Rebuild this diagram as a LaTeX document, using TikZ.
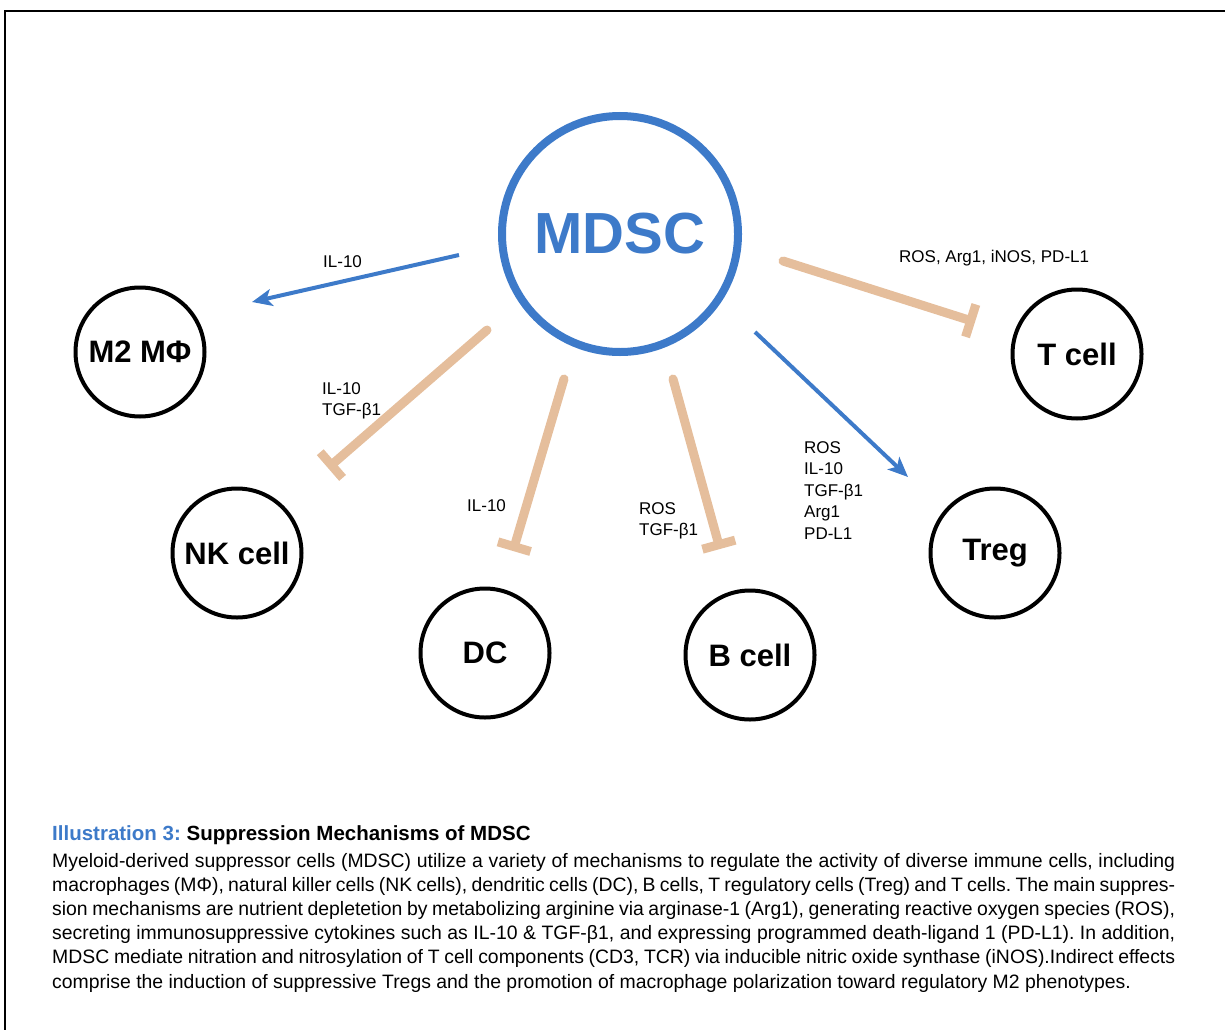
\documentclass[tikz,border=0pt]{standalone}
\usepackage{fontspec}
\setmainfont{Liberation Sans}
\newfontfamily\capfont{Liberation Sans}
\usetikzlibrary{arrows.meta}
\definecolor{mblue}{RGB}{61,122,201}
\definecolor{mtan}{RGB}{229,190,156}
\frenchspacing
\begin{document}
\begin{tikzpicture}[x=1pt,y=-1pt,
  cell/.style={circle,draw=black,line width=4pt,minimum size=129pt,inner sep=0pt,
    font=\fontsize{31}{31}\selectfont\bfseries},
  act/.style={draw=mblue,line width=4pt,-{Stealth[length=20pt,width=17pt,inset=5pt]}},
  inh/.style={draw=mtan,line width=9pt,line cap=round,-{Bar[width=34pt]}},
  lab/.style={font=\fontsize{17}{21.5}\selectfont,align=left,inner sep=0pt},
  capline/.style={anchor=base west,inner sep=0pt,font=\capfont\fontsize{19.4}{24}\selectfont},
  frame/.style={draw=black,line width=2.5pt}]
\useasboundingbox (0,0) rectangle (1225,1030);
% frame
\coordinate (ftl) at (5,11);
\coordinate (ftr) at (1225,11);
\coordinate (fbl) at (5,1030);
\draw[frame] (ftr) -- (ftl) -- (fbl);
% nodes
\node[circle,draw=mblue,line width=8pt,minimum size=236pt,inner sep=0pt,text=mblue,
  font=\fontsize{58}{58}\selectfont\bfseries] (mdsc) at (620,234) {MDSC};
\node[cell] (m2) at (140,352) {M2 MΦ};
\node[cell] (nk) at (237,553) {NK cell};
\node[cell] (dc) at (485,653) {DC};
\node[cell] (bc) at (750,655) {B cell};
\node[cell] (tc) at (1077,354) {T cell};
\node[cell] (tr) at (995,553) {Treg};
% connector ends
\coordinate (m2s) at (459,255); \coordinate (m2e) at (252,302);
\coordinate (nks) at (487,330); \coordinate (nke) at (328,468);
\coordinate (dcs) at (564,379); \coordinate (dce) at (513,551);
\coordinate (bcs) at (673,379); \coordinate (bce) at (720,549);
\coordinate (tcs) at (783,261); \coordinate (tce) at (975,322);
\coordinate (trs) at (755,332); \coordinate (tre) at (908,477);
\draw[act] (m2s) -- (m2e);
\draw[inh] (nks) -- (nke);
\draw[inh] (dcs) -- (dce);
\draw[inh] (bcs) -- (bce);
\draw[inh] (tcs) -- (tce);
\draw[act] (trs) -- (tre);
% labels
\node[lab,anchor=west] (l1) at (323,262) {IL-10};
\node[lab,anchor=north west] (l2) at (322,382) {IL-10\\TGF-β1};
\node[lab,anchor=west] (l3) at (467,506) {IL-10};
\node[lab,anchor=north west] (l4) at (639,502) {ROS\\TGF-β1};
\node[lab,anchor=west] (l5) at (899,258) {ROS, Arg1, iNOS, PD-L1};
\node[lab,anchor=north west] (l6) at (804,441) {ROS\\IL-10\\TGF-β1\\Arg1\\PD-L1};
% caption
\node[capline,font=\capfont\fontsize{20.5}{24}\selectfont\bfseries] (title) at (52,840)
  {\textcolor{mblue}{Illustration 3:} Suppression Mechanisms of MDSC};
\node[capline] (c1) at (52,867) {\makebox[1123pt][s]{Myeloid-derived suppressor cells (MDSC) utilize a variety of mechanisms to regulate the activity of diverse immune cells, including}};
\node[capline] (c2) at (52,891.2) {\makebox[1123pt][s]{macrophages (MΦ), natural killer cells (NK cells), dendritic cells (DC), B cells, T regulatory cells (Treg) and T cells. The main suppres-}};
\node[capline] (c3) at (52,915.4) {\makebox[1123pt][s]{sion mechanisms are nutrient depletetion by metabolizing arginine via arginase-1 (Arg1), generating reactive oxygen species (ROS),}};
\node[capline] (c4) at (52,939.6) {\makebox[1123pt][s]{secreting immunosuppressive cytokines such as IL-10 \& TGF-β1, and expressing programmed death-ligand 1 (PD-L1). In addition,}};
\node[capline] (c5) at (52,963.8) {\makebox[1123pt][s]{MDSC mediate nitration and nitrosylation of T cell components (CD3, TCR) via inducible nitric oxide synthase (iNOS).Indirect effects}};
\node[capline] (c6) at (52,988) {comprise the induction of suppressive Tregs and the promotion of macrophage polarization toward regulatory M2 phenotypes.};
\end{tikzpicture}
\end{document}
